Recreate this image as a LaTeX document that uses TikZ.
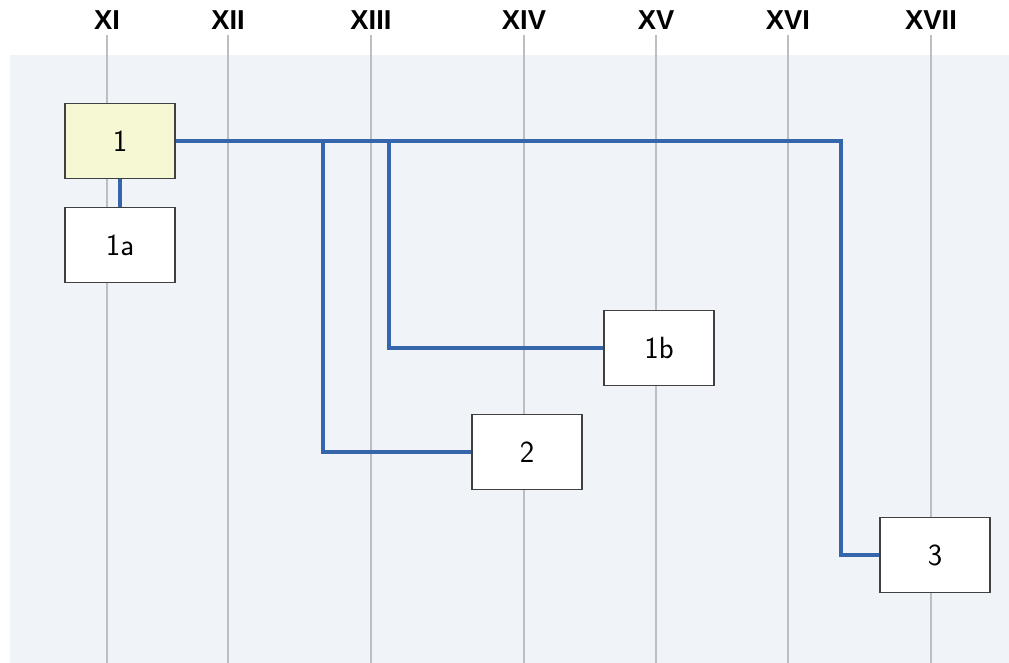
\documentclass[tikz,border=0pt]{standalone}
\usepackage{fontspec}
\usepackage{tikz}
\newfontfamily\headfont{Liberation Sans}
\definecolor{bgpanel}{HTML}{F0F3F7}
\definecolor{boxfirst}{HTML}{F6F8D4}
\definecolor{linkblue}{HTML}{3565AA}
\definecolor{rulegray}{HTML}{BBBEC2}
\tikzset{
  box/.style={draw=black!75,fill=white,line width=0.8pt,minimum width=82.5pt,minimum height=56.25pt,inner sep=0pt,font=\sffamily\fontsize{23}{27}\selectfont},
  link/.style={draw=linkblue,line width=3pt},
  century/.style={anchor=base,font=\headfont\bfseries\fontsize{20.5}{24}\selectfont}
}
\begin{document}
\begin{tikzpicture}[x=0.75pt,y=-0.75pt]
\useasboundingbox(0,0)rectangle(1009,663);
\fill[bgpanel](10,55)rectangle(1009,663);
\foreach \xpos/\lab in {107/XI,228/XII,371/XIII,524/XIV,656/XV,788/XVI,931/XVII}{
  \draw[rulegray,line width=0.9pt](\xpos,35)--(\xpos,663);
  \node[century] at (\xpos,29.5){\lab};
}
\node[box,fill=boxfirst](b1) at (120,141){1};
\node[box](b1a) at (120,245){1a};
\node[box](b1b) at (659,348){1b};
\node[box](b2) at (527,452){2};
\node[box](b3) at (935,555){3};
\coordinate(j2) at (323,141);
\coordinate(j1b) at (389,141);
\coordinate(j3) at (841,141);
\draw[link](b1)--(b1a);
\draw[link](b1.east)--(j3)|-(b3.west);
\draw[link](j2)|-(b2.west);
\draw[link](j1b)|-(b1b.west);
\end{tikzpicture}
\end{document}
